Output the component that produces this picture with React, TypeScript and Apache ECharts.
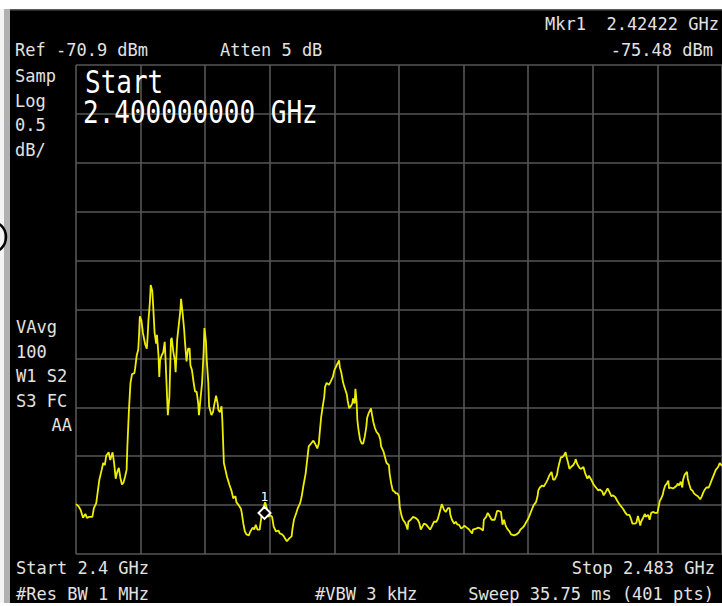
import React, { useEffect, useRef } from "react";
import * as echarts from "echarts";

// ---- Instrument settings ----
const startMHz = 2400;
const stopMHz = 2483;
const refLevelDbm = -70.9;
const dbPerDiv = 0.5;
const divisions = 10;

// ---- Trace: [frequency MHz, level dBm] ----
const trace: [number, number][] = [
  [2400.0,-75.39],[2400.3,-75.41],[2400.6,-75.45],[2400.9,-75.53],[2401.2,-75.49],[2401.4,-75.53],[2401.7,-75.52],[2402.1,-75.52],
  [2402.3,-75.43],[2402.6,-75.38],[2402.8,-75.26],[2403.0,-75.14],[2403.3,-75.04],[2403.5,-74.97],[2403.7,-74.99],[2403.9,-74.89],
  [2404.2,-74.86],[2404.4,-74.94],[2404.5,-74.91],[2404.7,-74.86],[2404.9,-74.97],[2405.1,-75.13],[2405.3,-75.06],[2405.5,-75.02],
  [2405.7,-75.12],[2405.9,-75.19],[2406.1,-75.17],[2406.3,-75.11],[2406.5,-75.04],[2406.6,-74.80],[2406.8,-74.43],[2407.0,-74.15],
  [2407.2,-74.06],[2407.5,-74.05],[2407.6,-74.00],[2407.8,-73.87],[2408.0,-73.81],[2408.1,-73.66],[2408.2,-73.47],[2408.4,-73.51],
  [2408.6,-73.64],[2408.9,-73.76],[2409.1,-73.80],[2409.2,-73.68],[2409.3,-73.52],[2409.5,-73.32],[2409.6,-73.15],[2409.8,-73.21],
  [2409.9,-73.34],[2410.0,-73.49],[2410.1,-73.64],[2410.3,-73.75],[2410.4,-73.66],[2410.6,-73.87],[2410.7,-74.09],[2410.8,-73.92],
  [2411.0,-73.87],[2411.2,-73.84],[2411.4,-73.73],[2411.5,-73.90],[2411.7,-74.29],[2411.8,-74.48],[2412.0,-74.29],[2412.2,-73.71],
  [2412.3,-73.69],[2412.5,-73.83],[2412.7,-73.92],[2412.8,-74.04],[2413.0,-73.71],[2413.2,-73.56],[2413.4,-73.42],[2413.5,-73.29],
  [2413.7,-73.44],[2413.9,-73.61],[2414.0,-73.73],[2414.2,-73.93],[2414.4,-73.80],[2414.6,-73.80],[2414.7,-73.97],[2414.9,-74.02],
  [2415.1,-74.14],[2415.3,-74.24],[2415.5,-74.24],[2415.7,-74.36],[2415.8,-74.48],[2416.0,-74.31],[2416.2,-74.15],[2416.4,-73.83],
  [2416.5,-73.59],[2416.7,-73.73],[2416.8,-73.92],[2417.0,-74.15],[2417.1,-74.39],[2417.4,-74.48],[2417.6,-74.45],[2417.8,-74.36],
  [2418.0,-74.28],[2418.2,-74.36],[2418.3,-74.43],[2418.5,-74.45],[2418.7,-74.39],[2418.8,-74.53],[2419.0,-74.97],[2419.2,-75.04],
  [2419.4,-75.11],[2419.7,-75.19],[2420.0,-75.26],[2420.2,-75.33],[2420.5,-75.31],[2420.6,-75.37],[2420.9,-75.40],[2421.2,-75.44],
  [2421.3,-75.48],[2421.5,-75.59],[2421.7,-75.67],[2421.9,-75.70],[2422.2,-75.71],[2422.4,-75.67],[2422.7,-75.63],[2422.9,-75.65],
  [2423.1,-75.60],[2423.3,-75.65],[2423.6,-75.65],[2423.7,-75.59],[2423.9,-75.48],[2424.1,-75.42],[2424.3,-75.37],[2424.5,-75.43],
  [2424.7,-75.52],[2424.9,-75.50],[2425.2,-75.52],[2425.4,-75.62],[2425.7,-75.67],[2426.0,-75.66],[2426.2,-75.69],[2426.5,-75.70],
  [2426.7,-75.72],[2427.0,-75.76],[2427.1,-75.77],[2427.4,-75.74],[2427.7,-75.72],[2427.8,-75.65],[2428.0,-75.55],[2428.3,-75.48],
  [2428.5,-75.43],[2428.8,-75.38],[2429.0,-75.31],[2429.2,-75.21],[2429.5,-75.08],[2429.7,-74.94],[2429.9,-74.80],[2430.2,-74.77],
  [2430.5,-74.74],[2430.7,-74.77],[2431.0,-74.82],[2431.2,-74.77],[2431.3,-74.67],[2431.5,-74.50],[2431.7,-74.39],[2431.9,-74.29],
  [2432.0,-74.19],[2432.2,-74.15],[2432.5,-74.17],[2432.7,-74.14],[2433.0,-74.09],[2433.2,-74.02],[2433.5,-73.97],[2433.8,-73.92],
  [2433.9,-73.99],[2434.1,-74.05],[2434.3,-74.14],[2434.4,-74.17],[2434.6,-74.22],[2434.8,-74.27],[2434.9,-74.33],[2435.1,-74.41],
  [2435.3,-74.39],[2435.5,-74.36],[2435.6,-74.31],[2435.8,-74.36],[2435.9,-74.21],[2436.05,-74.34],[2436.15,-74.53],[2436.3,-74.63],
  [2436.5,-74.73],[2436.7,-74.77],[2436.9,-74.77],[2437.1,-74.70],[2437.3,-74.60],[2437.4,-74.51],[2437.6,-74.46],[2437.9,-74.41],
  [2438.0,-74.46],[2438.2,-74.55],[2438.4,-74.61],[2438.6,-74.65],[2438.9,-74.68],[2439.1,-74.73],[2439.2,-74.80],[2439.5,-74.85],
  [2439.7,-74.91],[2439.9,-74.97],[2440.2,-74.99],[2440.3,-75.08],[2440.5,-75.18],[2440.7,-75.25],[2440.9,-75.26],[2441.1,-75.28],
  [2441.3,-75.28],[2441.5,-75.31],[2441.6,-75.42],[2441.8,-75.50],[2442.0,-75.55],[2442.2,-75.57],[2442.4,-75.60],[2442.6,-75.65],
  [2442.7,-75.57],[2443.0,-75.55],[2443.3,-75.52],[2443.6,-75.53],[2443.9,-75.55],[2444.1,-75.58],[2444.3,-75.65],[2444.5,-75.62],
  [2444.7,-75.59],[2445.0,-75.60],[2445.2,-75.62],[2445.5,-75.65],[2445.7,-75.62],[2446.0,-75.57],[2446.3,-75.57],[2446.5,-75.54],
  [2446.8,-75.45],[2447.0,-75.39],[2447.3,-75.45],[2447.5,-75.47],[2447.8,-75.43],[2448.0,-75.43],[2448.1,-75.50],[2448.3,-75.55],
  [2448.6,-75.59],[2448.8,-75.57],[2449.0,-75.60],[2449.2,-75.60],[2449.5,-75.64],[2449.8,-75.62],[2449.9,-75.61],[2450.2,-75.63],
  [2450.5,-75.65],[2450.9,-75.69],[2451.0,-75.65],[2451.4,-75.64],[2451.7,-75.63],[2452.0,-75.64],[2452.3,-75.66],[2452.4,-75.55],
  [2452.7,-75.52],[2452.9,-75.48],[2453.2,-75.52],[2453.4,-75.55],[2453.8,-75.55],[2454.1,-75.46],[2454.3,-75.46],[2454.6,-75.47],
  [2454.8,-75.60],[2455.0,-75.55],[2455.2,-75.61],[2455.4,-75.64],[2455.7,-75.67],[2455.9,-75.70],[2456.3,-75.71],[2456.6,-75.70],
  [2456.9,-75.68],[2457.1,-75.65],[2457.4,-75.63],[2457.6,-75.61],[2457.8,-75.58],[2458.1,-75.54],[2458.3,-75.50],[2458.6,-75.44],
  [2458.8,-75.40],[2459.1,-75.37],[2459.3,-75.31],[2459.4,-75.25],[2459.6,-75.22],[2459.9,-75.20],[2460.1,-75.21],[2460.4,-75.17],
  [2460.6,-75.14],[2460.8,-75.10],[2461.1,-75.06],[2461.3,-75.14],[2461.5,-75.14],[2461.8,-75.09],[2461.9,-75.04],[2462.1,-74.97],
  [2462.3,-74.91],[2462.5,-74.91],[2462.7,-74.89],[2462.9,-74.86],[2463.0,-74.90],[2463.2,-74.96],[2463.4,-75.03],[2463.6,-75.01],
  [2463.9,-74.99],[2464.1,-74.96],[2464.2,-74.93],[2464.4,-74.98],[2464.7,-75.02],[2464.9,-75.03],[2465.2,-75.01],[2465.4,-75.07],
  [2465.7,-75.13],[2465.9,-75.10],[2466.2,-75.14],[2466.5,-75.19],[2466.8,-75.22],[2467.1,-75.25],[2467.3,-75.24],[2467.6,-75.26],
  [2467.8,-75.30],[2468.1,-75.26],[2468.3,-75.23],[2468.5,-75.26],[2468.8,-75.31],[2469.0,-75.30],[2469.3,-75.32],[2469.5,-75.35],
  [2469.8,-75.39],[2470.1,-75.42],[2470.3,-75.44],[2470.6,-75.48],[2470.8,-75.50],[2471.1,-75.50],[2471.3,-75.54],[2471.5,-75.59],
  [2471.8,-75.59],[2472.0,-75.58],[2472.2,-75.51],[2472.5,-75.61],[2472.6,-75.57],[2472.8,-75.54],[2473.1,-75.49],[2473.2,-75.52],
  [2473.5,-75.50],[2473.7,-75.55],[2473.9,-75.48],[2474.2,-75.47],[2474.4,-75.48],[2474.7,-75.48],[2474.9,-75.40],[2475.0,-75.36],
  [2475.2,-75.33],[2475.4,-75.29],[2475.5,-75.25],[2475.7,-75.20],[2475.9,-75.18],[2476.1,-75.15],[2476.2,-75.23],[2476.4,-75.22],
  [2476.7,-75.23],[2476.9,-75.22],[2477.2,-75.20],[2477.3,-75.18],[2477.5,-75.20],[2477.7,-75.16],[2477.9,-75.22],[2478.0,-75.14],
  [2478.2,-75.09],[2478.5,-75.06],[2478.6,-75.13],[2478.8,-75.19],[2479.0,-75.24],[2479.2,-75.25],[2479.4,-75.28],[2479.7,-75.30],
  [2479.9,-75.31],[2480.2,-75.34],[2480.4,-75.31],[2480.6,-75.27],[2480.8,-75.24],[2481.0,-75.22],[2481.3,-75.22],[2481.5,-75.18],
  [2481.7,-75.14],[2482.0,-75.08],[2482.2,-75.04],[2482.5,-75.01],[2482.7,-74.97],[2483.0,-75.00],
];

// ---- Marker ----
const markerFreqMHz = 2424.22;
const markerLevelDbm = -75.48;
const markerName = "1";

// ---- Screen annotations ----
const headerTexts = ["Ref -70.9 dBm", "Atten 5 dB"];
const markerReadout = ["Mkr1  2.42422 GHz", "-75.48 dBm"];
const sideTopTexts = ["Samp", "Log", "0.5", "dB/"];
const sideBottomTexts = ["VAvg", "100", "W1 S2", "S3 FC", "AA"];
const activeFunction = ["Start", "2.400000000 GHz"];
const footerTexts = ["Start 2.4 GHz", "Stop 2.483 GHz", "#Res BW 1 MHz", "#VBW 3 kHz", "Sweep 35.75 ms (401 pts)"];

const MONO = '"DejaVu Sans Mono", "Liberation Mono", monospace';
const TXT = "#e2e2e2";

function txt(text: string, x: number, y: number, align: string = "left", size = 17, fill = TXT, extra: any = {}) {
  return {
    type: "text",
    x,
    y,
    silent: true,
    z: 10,
    ...extra,
    style: {
      text,
      fill,
      fontSize: size,
      fontFamily: MONO,
      align,
      verticalAlign: "middle",
    },
  };
}

export default function App() {
  const ref = useRef<HTMLDivElement>(null);

  useEffect(() => {
    if (!ref.current) return;
    const chart = echarts.init(ref.current, undefined, { renderer: "svg" });

    const graphics: any[] = [
      { type: "rect", shape: { x: 0, y: 0, width: 722, height: 9 }, style: { fill: "#ffffff" }, silent: true },
      { type: "rect", shape: { x: 0, y: 9, width: 722, height: 1.5 }, style: { fill: "#5a5a5a" }, silent: true },
      { type: "rect", shape: { x: 0, y: 603, width: 722, height: 3 }, style: { fill: "#ffffff" }, silent: true },
      { type: "rect", shape: { x: 0, y: 9, width: 4, height: 594 }, style: { fill: "#f4f4f4" }, silent: true },
      { type: "rect", shape: { x: 4, y: 9, width: 6, height: 594 }, style: { fill: "#b0b0b0" }, silent: true },
      {
        type: "arc",
        shape: { cx: -10, cy: 237, r: 16, startAngle: -Math.PI / 2, endAngle: Math.PI / 2 },
        style: { stroke: "#000", lineWidth: 2.5, fill: "none" },
        silent: true,
      },
      txt(headerTexts[0], 15, 50),
      txt(headerTexts[1], 220, 50),
      txt(markerReadout[0], 719, 24, "right"),
      txt(markerReadout[1], 713, 50, "right"),
      ...sideTopTexts.map((t, i) => txt(t, 15, 76 + i * 24.7)),
      ...sideBottomTexts.map((t, i) =>
        i === sideBottomTexts.length - 1 ? txt(t, 72, 327 + i * 24.5, "right") : txt(t, 16, 327 + i * 24.5)
      ),
      txt(activeFunction[0], 85, 82.5, "left", 26, "#ffffff", { scaleY: 1.2 }),
      txt(activeFunction[1], 83, 112, "left", 26, "#ffffff", { scaleY: 1.2 }),
      txt(footerTexts[0], 16, 568),
      txt(footerTexts[1], 715, 568, "right"),
      txt(footerTexts[2], 16, 593.5),
      txt(footerTexts[3], 315, 593.5),
      txt(footerTexts[4], 714, 593.5, "right"),
    ];

    const gridLine = { show: true, lineStyle: { color: "#565656", width: 1.6 } };

    chart.setOption({
      animation: false,
      backgroundColor: "#000000",
      grid: { left: 76, top: 65, width: 646, height: 489, containLabel: false },
      xAxis: [
        { type: "value", min: startMHz, max: stopMHz, show: false },
        {
          type: "value",
          min: 0,
          max: divisions,
          interval: 1,
          axisLine: { show: false },
          axisTick: { show: false },
          axisLabel: { show: false },
          splitLine: gridLine,
        },
      ],
      yAxis: [
        { type: "value", min: refLevelDbm - dbPerDiv * divisions, max: refLevelDbm, show: false },
        {
          type: "value",
          min: 0,
          max: divisions,
          interval: 1,
          axisLine: { show: false },
          axisTick: { show: false },
          axisLabel: { show: false },
          splitLine: gridLine,
        },
      ],
      series: [
        {
          type: "line",
          xAxisIndex: 0,
          yAxisIndex: 0,
          data: trace,
          showSymbol: false,
          symbol: "none",
          silent: true,
          z: 3,
          lineStyle: { color: "#eeee00", width: 1.8 },
          markPoint: {
            silent: true,
            symbol: "diamond",
            symbolSize: [12, 12],
            itemStyle: { color: "#000", borderColor: "#ffffff", borderWidth: 2 },
            label: {
              show: true,
              formatter: markerName,
              position: "top",
              distance: 3,
              color: "#ffffff",
              fontSize: 13,
              fontFamily: MONO,
            },
            data: [{ coord: [markerFreqMHz, markerLevelDbm] }],
          },
        },
      ],
      graphic: graphics,
    });

    return () => chart.dispose();
  }, []);

  return <div ref={ref} style={{ position: "fixed", left: 0, top: 0, width: 722, height: 606 }} />;
}
